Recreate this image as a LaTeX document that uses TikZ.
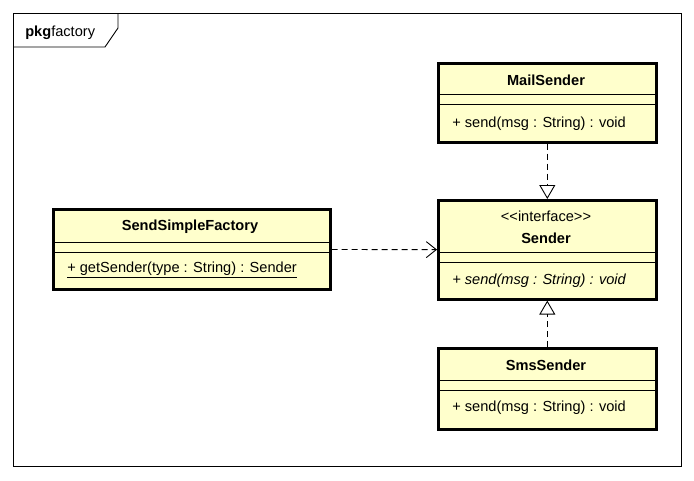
\documentclass[tikz,border=0pt]{standalone}
\usepackage{fontspec}
\setmainfont{Liberation Sans}
\usetikzlibrary{arrows.meta}
\usetikzlibrary{positioning}
\definecolor{umlfill}{HTML}{FFFFCC}

\begin{document}
\begin{tikzpicture}[x=1pt,y=-1pt,font=\fontsize{14.6}{16}\selectfont,
			semithick]
			\tikzstyle{class}=[draw,line width=2.6pt,fill=umlfill,anchor=north west,inner sep=0pt]
			\tikzstyle{sep}=[line width=0.9pt]
			\tikzstyle{txt}=[inner sep=0pt,anchor=center]
			\tikzstyle{realize}=[dashed,dash pattern=on 6pt off 4pt,line width=0.9pt,-{Triangle[open,length=14pt,width=16pt]}]
			\tikzstyle{depend}=[dashed,dash pattern=on 6pt off 4pt,line width=0.9pt,-{Straight Barb[length=10pt,width=16pt]}]
			
			\useasboundingbox (0,0) rectangle (694,480);
			
			% package frame
			\draw[line width=0.9pt] (13,13) rectangle (681,466);
			\draw[line width=0.9pt] (13,47) -- (105,47) -- (118,28) -- (118,13);
			\node[inner sep=0pt,anchor=west] (pkg) at (25,33) {\textbf{pkg}factory};
			
			% classes
			\node[class,minimum width=218pt,minimum height=79pt]  (MailSender)        at (437,62)  {};
			\node[class,minimum width=218pt,minimum height=99pt]  (Sender)            at (437,199) {};
			\node[class,minimum width=218pt,minimum height=81pt]  (SmsSender)         at (437,347) {};
			\node[class,minimum width=277pt,minimum height=80pt]  (SendSimpleFactory) at (52,208)  {};
			
			\node[txt] (MailSender_name)  at (546,80)  {\textbf{MailSender}};
			\node[txt] (MailSender_op)    [anchor=west] at (452,124) {+ send(msg : String) : void};
			\draw[sep] (MailSender.west |- 0,94)  -- (MailSender.east |- 0,94);
			\draw[sep] (MailSender.west |- 0,104) -- (MailSender.east |- 0,104);
			
			\node[txt] (Sender_stereo)    at (546,216) {<\kern0pt<interface>\kern0pt>};
			\node[txt] (Sender_name)      at (546,238) {\textbf{Sender}};
			\node[txt] (Sender_op)        [anchor=west] at (452,281) {\itshape + send(msg : String) : void};
			\draw[sep] (Sender.west |- 0,252) -- (Sender.east |- 0,252);
			\draw[sep] (Sender.west |- 0,262) -- (Sender.east |- 0,262);
			
			\node[txt] (SmsSender_name)   at (546,365) {\textbf{SmsSender}};
			\node[txt] (SmsSender_op)     [anchor=west] at (452,408) {+ send(msg : String) : void};
			\draw[sep] (SmsSender.west |- 0,380) -- (SmsSender.east |- 0,380);
			\draw[sep] (SmsSender.west |- 0,390) -- (SmsSender.east |- 0,390);
			
			\node[txt] (SendSimpleFactory_name) at (190,227) {\textbf{SendSimpleFactory}};
			\node[txt] (SendSimpleFactory_op)   [anchor=west] at (67,270) {\underline{+ getSender(type : String) : Sender}};
			\draw[sep] (SendSimpleFactory.west |- 0,242) -- (SendSimpleFactory.east |- 0,242);
			\draw[sep] (SendSimpleFactory.west |- 0,252) -- (SendSimpleFactory.east |- 0,252);
			
			% relations
			\draw[realize] (MailSender) -- (Sender);
			\draw[realize] (SmsSender) -- (Sender);
			\draw[depend]  (SendSimpleFactory) -- (Sender);
\end{tikzpicture}
\end{document}
